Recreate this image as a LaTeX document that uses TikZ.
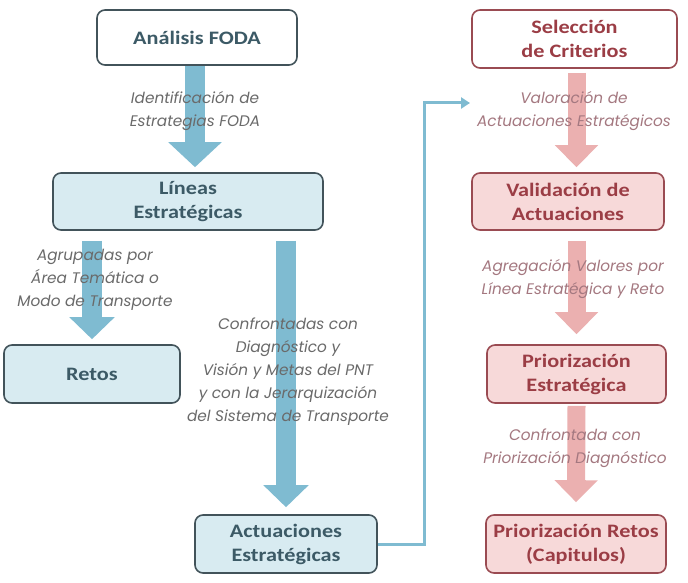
\documentclass[tikz,border=0pt]{standalone}
\usepackage{fontspec}
\setmainfont{Carlito}[FakeStretch=1.17]
\newfontfamily\lblfont{Poppins}
\usetikzlibrary{arrows.meta,calc}
\definecolor{bfill}{HTML}{D8EBF1}
\definecolor{bborder}{HTML}{42535A}
\definecolor{btext}{HTML}{3C5A66}
\definecolor{barrow}{HTML}{7FBBD1}
\definecolor{pfill}{HTML}{F7D9D9}
\definecolor{pborder}{HTML}{9A4B52}
\definecolor{ptext}{HTML}{9B3D45}
\definecolor{parrow}{HTML}{EBB0B0}
\definecolor{blabel}{HTML}{6A6A6A}
\definecolor{plabel}{HTML}{A47880}
\begin{document}
\begin{tikzpicture}[x=1pt,y=-1pt,
  box/.style={draw, rounded corners=8pt, line width=1.6pt, align=center,
    font=\fontsize{19}{24}\selectfont\bfseries, inner sep=0pt},
  bluebox/.style={box, draw=bborder, fill=bfill, text=btext},
  whitebox/.style={box, draw=bborder, fill=white, text=btext},
  pinkbox/.style={box, draw=pborder, fill=pfill, text=ptext},
  pinkwhite/.style={box, draw=pborder, fill=white, text=ptext},
  barr/.style={draw=barrow, line width=20pt},
  parr/.style={draw=parrow, line width=18pt, -{Triangle[width=42pt,length=22pt]}},
  lbl/.style={align=center, inner sep=0pt, font=\lblfont\itshape\fontsize{15.3}{23}\selectfont},
  blbl/.style={lbl, text=blabel},
  plbl/.style={lbl, text=plabel},
  conn/.style={draw=barrow, line width=3pt, -{Triangle[width=11pt,length=9pt]}}
]
\fill[white] (0,0) rectangle (688,583);
\useasboundingbox (0,0) rectangle (688,583);

% boxes
\node[whitebox, minimum width=200pt, minimum height=55pt] (fod) at (197,37.5) {Análisis FODA};
\node[bluebox, minimum width=270pt, minimum height=57pt] (lin) at (188,201.5) {Líneas\\Estratégicas};
\node[bluebox, minimum width=176pt, minimum height=58pt] (ret) at (92,374) {Retos};
\node[bluebox, minimum width=182pt, minimum height=58pt] (act) at (286,544) {Actuaciones\\Estratégicas};
\node[pinkwhite, minimum width=205pt, minimum height=58pt] (sel) at (574.5,39) {Selección\\de Criterios};
\node[pinkbox, minimum width=192pt, minimum height=57pt] (val) at (568,201.5) {Validación de\\Actuaciones};
\node[pinkbox, minimum width=179pt, minimum height=58pt] (pe) at (576.5,374) {Priorización\\Estratégica};
\node[pinkbox, minimum width=180pt, minimum height=58pt] (pr) at (576,544) {Priorización Retos\\(Capitulos)};

% block arrows
\draw[barr, -{Triangle[width=52pt,length=25pt]}, shorten >=5pt] ($(fod.south)+(-2,0)$) -- ($(fod.south |- lin.north)+(-2,0)$);
\draw[barr, -{Triangle[width=44pt,length=22pt]}, shorten >=5pt] ($(lin.south -| ret.north)+(0,10)$) -- (ret.north);
\draw[barr, -{Triangle[width=44pt,length=22pt]}, shorten >=7pt] ($(lin.south -| act.north)+(0,10)$) -- (act.north);
\draw[parr, shorten >=5pt] ($(sel.south -| pe.north)+(0,4)$) -- (val.north -| pe.north);
\draw[parr, shorten >=10pt] ($(val.south -| pe.north)+(0,10)$) -- (pe.north);
\draw[parr, shorten >=12pt] ($(pe.south)+(0,2)$) -- (pr.north);

% connector
\coordinate (cv) at (470,103);
\draw[conn] (act.east) -- ++(47,0) |- (cv);

% labels
\node[blbl] (l1) at (195,111.5) {Identificación de\\Estrategias FODA};
\node[blbl] (l2) at (95,280) {Agrupadas por\\Área Temática o\\Modo de Transporte};
\node[blbl] (l3) at (288,371.5) {Confrontadas con\\Diagnóstico y\\Visión y Metas del PNT\\y con la Jerarquización\\del Sistema de Transporte};
\node[plbl] (l4) at (574,111.5) {Valoración de\\Actuaciones Estratégicos};
\node[plbl] (l5) at (573,279) {Agregación Valores por\\Línea Estratégica y Reto};
\node[plbl] (l6) at (575,448.5) {Confrontada con\\Priorización Diagnóstico};
\end{tikzpicture}
\end{document}
